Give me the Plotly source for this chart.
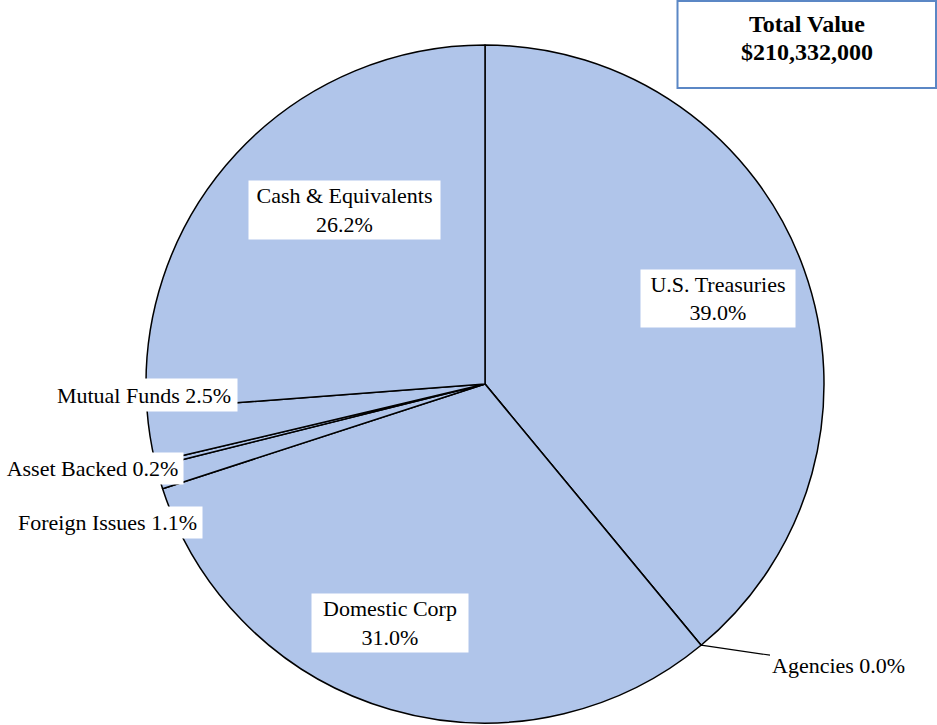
import math
import plotly.graph_objects as go

# portfolio breakdown (percent of total)
sectors = ["U.S. Treasuries", "Agencies", "Domestic Corp", "Foreign Issues",
           "Asset Backed", "Mutual Funds", "Cash & Equivalents"]
pcts = [39.0, 0.0, 31.0, 1.1, 0.2, 2.5, 26.2]
total_value = "$210,332,000"

W, H = 937, 725
cx, cy, r = 485, 384, 339   # pie centre / radius in pixels

def px(x):
    return x / W

def py(y):
    return 1 - y / H

fig = go.Figure()
fig.add_trace(go.Pie(
    labels=sectors, values=pcts, sort=False, direction="clockwise",
    rotation=0, textinfo="none", hoverinfo="label+percent",
    marker=dict(colors=["#b0c5ea"] * len(sectors),
                line=dict(color="black", width=1.5)),
    domain=dict(x=[px(cx - r), px(cx + r)], y=[py(cy + r), py(cy - r)]),
    showlegend=False,
))

serif = "Liberation Serif, Times New Roman, serif"
lab_font = dict(family=serif, size=22, color="black")

# label boxes: (text, centre x, centre y, width, height) in pixels
boxes = [
    ("Cash & Equivalents<br>26.2%", 344, 210, 191, 58),
    ("U.S. Treasuries<br>39.0%", 718, 298, 154, 57),
    ("Domestic Corp<br>31.0%", 390, 623, 156, 58),
    ("Mutual Funds 2.5%", 144, 395, 186, 32),
    ("Asset Backed 0.2%", 92, 468, 181, 31),
    ("Foreign Issues 1.1%", 107, 522, 189, 31),
]
for t, x, y, w, h in boxes:
    fig.add_annotation(text=t, x=px(x), y=py(y), xref="paper", yref="paper",
                       xanchor="center", yanchor="middle", showarrow=False,
                       width=w, height=h, bgcolor="white", borderpad=0,
                       font=lab_font)

# Agencies leader line from the slice boundary on the rim
cum = sum(pcts[:2])
ang = math.radians(360 * cum / 100)
ex, ey = cx + r * math.sin(ang), cy - r * math.cos(ang)
fig.add_annotation(text="Agencies 0.0%", x=px(ex), y=py(ey), xref="paper", yref="paper",
                   showarrow=True, arrowhead=0, arrowwidth=1.2, arrowcolor="black",
                   ax=838 - ex, ay=665 - ey, font=lab_font, bgcolor="white")

# total value box (frame + two text lines, tighter spacing than <br>)
fig.add_shape(type="rect", xref="paper", yref="paper",
              x0=px(677.5), x1=px(936), y0=py(88), y1=py(1),
              line=dict(color="#5b87c5", width=2), fillcolor="white")
for t, y in [("Total Value", 24), (total_value, 52)]:
    fig.add_annotation(text="<b>" + t + "</b>", x=px(807), y=py(y),
                       xref="paper", yref="paper", xanchor="center", yanchor="middle",
                       showarrow=False, font=dict(family=serif, size=24, color="black"))

fig.update_layout(width=W, height=H, margin=dict(l=0, r=0, t=0, b=0),
                  paper_bgcolor="white", plot_bgcolor="white")

# drop the default body margin so the figure sits at the page corner
fig.write_html("out.html", config={"displayModeBar": False},
               post_script="document.body.style.margin='0';")
